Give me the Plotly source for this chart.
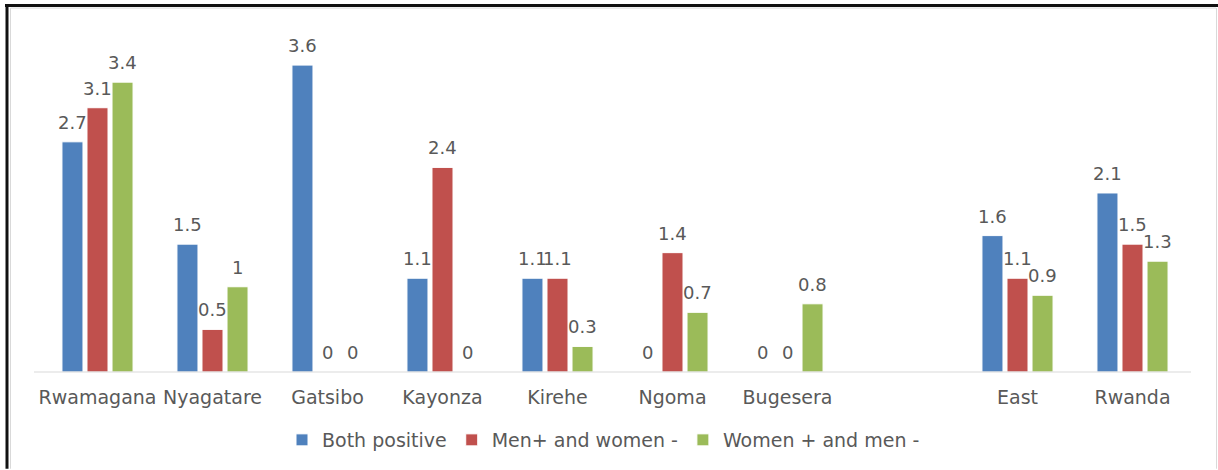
import plotly.graph_objects as go

# Districts of the Eastern Province, a spacer slot, then the province and national totals
categories = ["Rwamagana", "Nyagatare", "Gatsibo", "Kayonza", "Kirehe", "Ngoma", "Bugesera", " ", "East", "Rwanda"]

both_positive = [2.7, 1.5, 3.6, 1.1, 1.1, 0, 0, None, 1.6, 2.1]
men_pos_women_neg = [3.1, 0.5, 0, 2.4, 1.1, 1.4, 0, None, 1.1, 1.5]
women_pos_men_neg = [3.4, 1, 0, 0, 0.3, 0.7, 0.8, None, 0.9, 1.3]

series = [
    ("Both positive", both_positive, "#4F81BD"),
    ("Men+ and women -", men_pos_women_neg, "#C0504D"),
    ("Women + and men -", women_pos_men_neg, "#9BBB59"),
]

W, H = 1218, 470
L, R, T, B = 40, 28, 31, 97
FONT = "DejaVu Sans"
GREY = "#595959"
BARGAP = 0.347

fig = go.Figure()
for name, vals, color in series:
    fig.add_trace(go.Bar(
        name=name,
        x=categories,
        y=vals,
        marker=dict(color=color, line=dict(color="white", width=1)),
    ))

plot_w = W - L - R
plot_h = H - T - B
slot_px = plot_w / len(categories)
step_px = slot_px * (1 - BARGAP) / len(series)

# value labels above each bar, shifted onto the bar within its group
annotations = []
for i, (name, vals, color) in enumerate(series):
    shift = (i - (len(series) - 1) / 2) * step_px
    for cat, v in zip(categories, vals):
        if v is None:
            continue
        annotations.append(dict(
            x=cat, y=v, xref="x", yref="y",
            text=f"{v:g}",
            showarrow=False,
            xanchor="center", yanchor="bottom",
            xshift=shift, yshift=7,
            font=dict(family=FONT, size=18, color=GREY),
        ))


def px_x(p):
    return (p - L) / plot_w


def px_y(p):
    return (H - B - p) / plot_h


shapes = [
    # outer frame: dark top and left edges, light edges inside / on the right
    dict(type="line", xref="paper", yref="paper", x0=px_x(5), x1=px_x(1218), y0=px_y(5.5), y1=px_y(5.5),
         line=dict(color="#111111", width=3)),
    dict(type="line", xref="paper", yref="paper", x0=px_x(7), x1=px_x(7), y0=px_y(4), y1=px_y(470),
         line=dict(color="#111111", width=3)),
    dict(type="line", xref="paper", yref="paper", x0=px_x(10.5), x1=px_x(1216), y0=px_y(8), y1=px_y(8),
         line=dict(color="#D9D9D9", width=1)),
    dict(type="line", xref="paper", yref="paper", x0=px_x(10.5), x1=px_x(10.5), y0=px_y(8), y1=px_y(470),
         line=dict(color="#D9D9D9", width=1)),
    dict(type="line", xref="paper", yref="paper", x0=px_x(1216.5), x1=px_x(1216.5), y0=px_y(8), y1=px_y(470),
         line=dict(color="#D9D9D9", width=1)),
    # category axis baseline
    dict(type="line", xref="paper", yref="paper", x0=px_x(34), x1=px_x(1191), y0=0, y1=0,
         line=dict(color="#D9D9D9", width=1)),
]

fig.update_layout(
    width=W, height=H,
    margin=dict(l=L, r=R, t=T, b=B),
    paper_bgcolor="white",
    plot_bgcolor="white",
    barmode="group",
    bargap=BARGAP,
    bargroupgap=0.16,
    showlegend=True,
    legend=dict(
        orientation="h",
        x=0.49, xanchor="center",
        y=px_y(440), yanchor="middle",
        font=dict(family=FONT, size=19, color=GREY),
        itemwidth=30,
    ),
    xaxis=dict(
        type="category",
        categoryorder="array",
        categoryarray=categories,
        showline=False,
        showgrid=False,
        ticks="",
        tickfont=dict(family=FONT, size=19, color=GREY),
        ticklabelstandoff=12,
        zeroline=False,
    ),
    yaxis=dict(
        range=[0, 4],
        visible=False,
        showgrid=False,
        zeroline=False,
    ),
    shapes=shapes,
    annotations=annotations,
)

fig.write_html("out.html")
